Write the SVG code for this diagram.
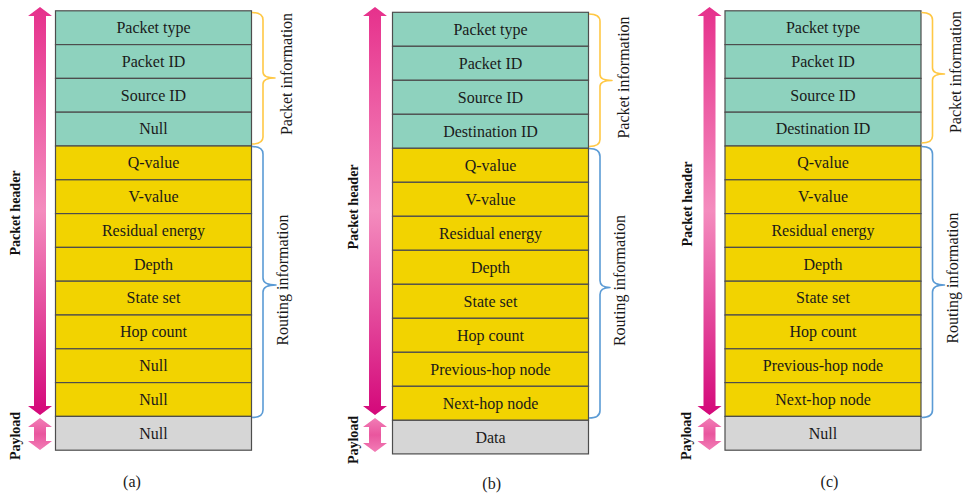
<svg xmlns="http://www.w3.org/2000/svg" width="964" height="494" viewBox="0 0 964 494">
  <defs>
    <linearGradient id="hdrGrad" x1="0" y1="0" x2="0" y2="1">
      <stop offset="0" stop-color="#E6318C"/>
      <stop offset="0.5" stop-color="#F48CBE"/>
      <stop offset="1" stop-color="#D4087A"/>
    </linearGradient>
    <linearGradient id="payGrad" x1="0" y1="0" x2="0" y2="1">
      <stop offset="0" stop-color="#F27DB6"/>
      <stop offset="0.5" stop-color="#E9569E"/>
      <stop offset="1" stop-color="#F27DB6"/>
    </linearGradient>
    <style>
      .cell rect { stroke: #4d4d4d; stroke-width: 1.2; }
      .pkt rect { fill: #8ED2BE; }
      .rt rect { fill: #F2D300; }
      .pl rect { fill: #D6D6D6; }
      .cell text { font-family: "Liberation Serif", "Times New Roman", serif; font-size: 16px; fill: #1a1a1a; text-anchor: middle; }
      .side { font-family: "Liberation Serif", "Times New Roman", serif; font-size: 14px; font-weight: bold; fill: #111; text-anchor: middle; }
      .brace-lbl { font-family: "Liberation Serif", "Times New Roman", serif; font-size: 16px; fill: #1a1a1a; text-anchor: middle; }
      .cap { font-family: "Liberation Serif", "Times New Roman", serif; font-size: 16px; fill: #1a1a1a; text-anchor: middle; }
      .brace { fill: none; stroke-width: 1.6; stroke-linejoin: round; }
      .b-pkt { stroke: #FFC845; }
      .b-rt { stroke: #5B9BD5; }
    </style>
  </defs>

  <rect width="964" height="494" fill="#ffffff"/>

  <!-- ===== Panel (a) ===== -->
  <g id="panel-a">
    <g id="a-packet-type" class="cell pkt"><rect x="55.5" y="10.8" width="196" height="33.8"/><text x="153.5" y="33">Packet type</text></g>
    <g id="a-packet-id" class="cell pkt"><rect x="55.5" y="44.6" width="196" height="33.8"/><text x="153.5" y="66.8">Packet ID</text></g>
    <g id="a-source-id" class="cell pkt"><rect x="55.5" y="78.4" width="196" height="33.8"/><text x="153.5" y="100.6">Source ID</text></g>
    <g id="a-null-1" class="cell pkt"><rect x="55.5" y="112.2" width="196" height="33.8"/><text x="153.5" y="134.4">Null</text></g>
    <g id="a-q-value" class="cell rt"><rect x="55.5" y="146" width="196" height="33.8"/><text x="153.5" y="168.2">Q-value</text></g>
    <g id="a-v-value" class="cell rt"><rect x="55.5" y="179.8" width="196" height="33.8"/><text x="153.5" y="202">V-value</text></g>
    <g id="a-residual-energy" class="cell rt"><rect x="55.5" y="213.6" width="196" height="33.8"/><text x="153.5" y="235.8">Residual energy</text></g>
    <g id="a-depth" class="cell rt"><rect x="55.5" y="247.4" width="196" height="33.8"/><text x="153.5" y="269.6">Depth</text></g>
    <g id="a-state-set" class="cell rt"><rect x="55.5" y="281.2" width="196" height="33.8"/><text x="153.5" y="303.4">State set</text></g>
    <g id="a-hop-count" class="cell rt"><rect x="55.5" y="315" width="196" height="33.8"/><text x="153.5" y="337.2">Hop count</text></g>
    <g id="a-null-2" class="cell rt"><rect x="55.5" y="348.8" width="196" height="33.8"/><text x="153.5" y="371">Null</text></g>
    <g id="a-null-3" class="cell rt"><rect x="55.5" y="382.6" width="196" height="33.8"/><text x="153.5" y="404.8">Null</text></g>
    <g id="a-payload" class="cell pl"><rect x="55.5" y="416.4" width="196" height="33.8"/><text x="153.5" y="438.6">Null</text></g>

    <g id="a-markers">
      <polygon fill="url(#hdrGrad)" points="40,7 52,16 46,16 46,406 52,406 40,415 28,406 34,406 34,16 28,16"/>
      <polygon fill="url(#payGrad)" points="40,418 52,427 46,427 46,441 52,441 40,450 28,441 34,441 34,427 28,427"/>
      <path class="brace b-pkt" d="M252,12.5 Q263,12.5 263,20 L263,72 Q263,78 275,78 Q263,78 263,84 L263,137 Q263,144 252,144"/>
      <path class="brace b-rt" d="M252,146.5 Q263,146.5 263,154 L263,278 Q263,285 276,285 Q263,285 263,292 L263,410 Q263,417.5 252,417.5"/>
    </g>
    <text class="side" transform="translate(20,213) rotate(-90)">Packet header</text>
    <text class="side" transform="translate(20,436) rotate(-90)">Payload</text>
    <text class="brace-lbl" transform="translate(291.5,74) rotate(-90)">Packet information</text>
    <text class="brace-lbl" transform="translate(288,280) rotate(-90)">Routing information</text>
  </g>

  <!-- ===== Panel (b) ===== -->
  <g id="panel-b" transform="translate(337,1.5)">
    <g id="b-packet-type" class="cell pkt"><rect x="55.5" y="10.8" width="196" height="34"/><text x="153.5" y="33.1">Packet type</text></g>
    <g id="b-packet-id" class="cell pkt"><rect x="55.5" y="44.8" width="196" height="34"/><text x="153.5" y="67.1">Packet ID</text></g>
    <g id="b-source-id" class="cell pkt"><rect x="55.5" y="78.8" width="196" height="34"/><text x="153.5" y="101.1">Source ID</text></g>
    <g id="b-destination-id" class="cell pkt"><rect x="55.5" y="112.8" width="196" height="34"/><text x="153.5" y="135.1">Destination ID</text></g>
    <g id="b-q-value" class="cell rt"><rect x="55.5" y="146.8" width="196" height="34"/><text x="153.5" y="169.1">Q-value</text></g>
    <g id="b-v-value" class="cell rt"><rect x="55.5" y="180.8" width="196" height="34"/><text x="153.5" y="203.1">V-value</text></g>
    <g id="b-residual-energy" class="cell rt"><rect x="55.5" y="214.8" width="196" height="34"/><text x="153.5" y="237.1">Residual energy</text></g>
    <g id="b-depth" class="cell rt"><rect x="55.5" y="248.8" width="196" height="34"/><text x="153.5" y="271.1">Depth</text></g>
    <g id="b-state-set" class="cell rt"><rect x="55.5" y="282.8" width="196" height="34"/><text x="153.5" y="305.1">State set</text></g>
    <g id="b-hop-count" class="cell rt"><rect x="55.5" y="316.8" width="196" height="34"/><text x="153.5" y="339.1">Hop count</text></g>
    <g id="b-previous-hop" class="cell rt"><rect x="55.5" y="350.8" width="196" height="34"/><text x="153.5" y="373.1">Previous-hop node</text></g>
    <g id="b-next-hop" class="cell rt"><rect x="55.5" y="384.8" width="196" height="34"/><text x="153.5" y="407.1">Next-hop node</text></g>
    <g id="b-payload" class="cell pl"><rect x="55.5" y="418.8" width="196" height="33.6"/><text x="153.5" y="441">Data</text></g>

    <g id="b-markers">
      <polygon fill="url(#hdrGrad)" points="38,5.5 50,14.5 44,14.5 44,404.5 50,404.5 38,413.5 26,404.5 32,404.5 32,14.5 26,14.5"/>
      <polygon fill="url(#payGrad)" points="38,416.5 50,425.5 44,425.5 44,441.5 50,441.5 38,450.5 26,441.5 32,441.5 32,425.5 26,425.5"/>
      <path class="brace b-pkt" d="M252,12.5 Q263,12.5 263,20 L263,73 Q263,79 275,79 Q263,79 263,85 L263,138 Q263,145 252,145"/>
      <path class="brace b-rt" d="M252,147 Q263,147 263,155 L263,279 Q263,286 273,286 Q263,286 263,293 L263,409 Q263,416.5 252,416.5"/>
    </g>
    <text class="side" transform="translate(20.5,205.5) rotate(-90)">Packet header</text>
    <text class="side" transform="translate(20.5,438.5) rotate(-90)">Payload</text>
    <text class="brace-lbl" transform="translate(291.5,76) rotate(-90)">Packet information</text>
    <text class="brace-lbl" transform="translate(288,279) rotate(-90)">Routing information</text>
  </g>

  <!-- ===== Panel (c) ===== -->
  <g id="panel-c" transform="translate(669.5,0)">
    <g id="c-packet-type" class="cell pkt"><rect x="55.5" y="10.8" width="196" height="33.8"/><text x="153.5" y="33">Packet type</text></g>
    <g id="c-packet-id" class="cell pkt"><rect x="55.5" y="44.6" width="196" height="33.8"/><text x="153.5" y="66.8">Packet ID</text></g>
    <g id="c-source-id" class="cell pkt"><rect x="55.5" y="78.4" width="196" height="33.8"/><text x="153.5" y="100.6">Source ID</text></g>
    <g id="c-destination-id" class="cell pkt"><rect x="55.5" y="112.2" width="196" height="33.8"/><text x="153.5" y="134.4">Destination ID</text></g>
    <g id="c-q-value" class="cell rt"><rect x="55.5" y="146" width="196" height="33.8"/><text x="153.5" y="168.2">Q-value</text></g>
    <g id="c-v-value" class="cell rt"><rect x="55.5" y="179.8" width="196" height="33.8"/><text x="153.5" y="202">V-value</text></g>
    <g id="c-residual-energy" class="cell rt"><rect x="55.5" y="213.6" width="196" height="33.8"/><text x="153.5" y="235.8">Residual energy</text></g>
    <g id="c-depth" class="cell rt"><rect x="55.5" y="247.4" width="196" height="33.8"/><text x="153.5" y="269.6">Depth</text></g>
    <g id="c-state-set" class="cell rt"><rect x="55.5" y="281.2" width="196" height="33.8"/><text x="153.5" y="303.4">State set</text></g>
    <g id="c-hop-count" class="cell rt"><rect x="55.5" y="315" width="196" height="33.8"/><text x="153.5" y="337.2">Hop count</text></g>
    <g id="c-previous-hop" class="cell rt"><rect x="55.5" y="348.8" width="196" height="33.8"/><text x="153.5" y="371">Previous-hop node</text></g>
    <g id="c-next-hop" class="cell rt"><rect x="55.5" y="382.6" width="196" height="33.8"/><text x="153.5" y="404.8">Next-hop node</text></g>
    <g id="c-payload" class="cell pl"><rect x="55.5" y="416.4" width="196" height="33.8"/><text x="153.5" y="438.6">Null</text></g>

    <g id="c-markers">
      <polygon fill="url(#hdrGrad)" points="40,7 52,16 46,16 46,406 52,406 40,415 28,406 34,406 34,16 28,16"/>
      <polygon fill="url(#payGrad)" points="40,418 52,427 46,427 46,441 52,441 40,450 28,441 34,441 34,427 28,427"/>
      <path class="brace b-pkt" d="M252,12.5 Q263,12.5 263,20 L263,68 Q263,74 275,74 Q263,74 263,80 L263,136 Q263,143 252,143"/>
      <path class="brace b-rt" d="M252,146.5 Q263,146.5 263,154 L263,278 Q263,285 275,285 Q263,285 263,292 L263,410 Q263,417.5 252,417.5"/>
    </g>
    <text class="side" transform="translate(22,204) rotate(-90)">Packet header</text>
    <text class="side" transform="translate(21,436) rotate(-90)">Payload</text>
    <text class="brace-lbl" transform="translate(291.5,72) rotate(-90)">Packet information</text>
    <text class="brace-lbl" transform="translate(288,278) rotate(-90)">Routing information</text>
  </g>

  <!-- captions -->
  <g id="captions">
    <text class="cap" x="132" y="487">(a)</text>
    <text class="cap" x="491.7" y="488.5">(b)</text>
    <text class="cap" x="829.5" y="487">(c)</text>
  </g>
</svg>
